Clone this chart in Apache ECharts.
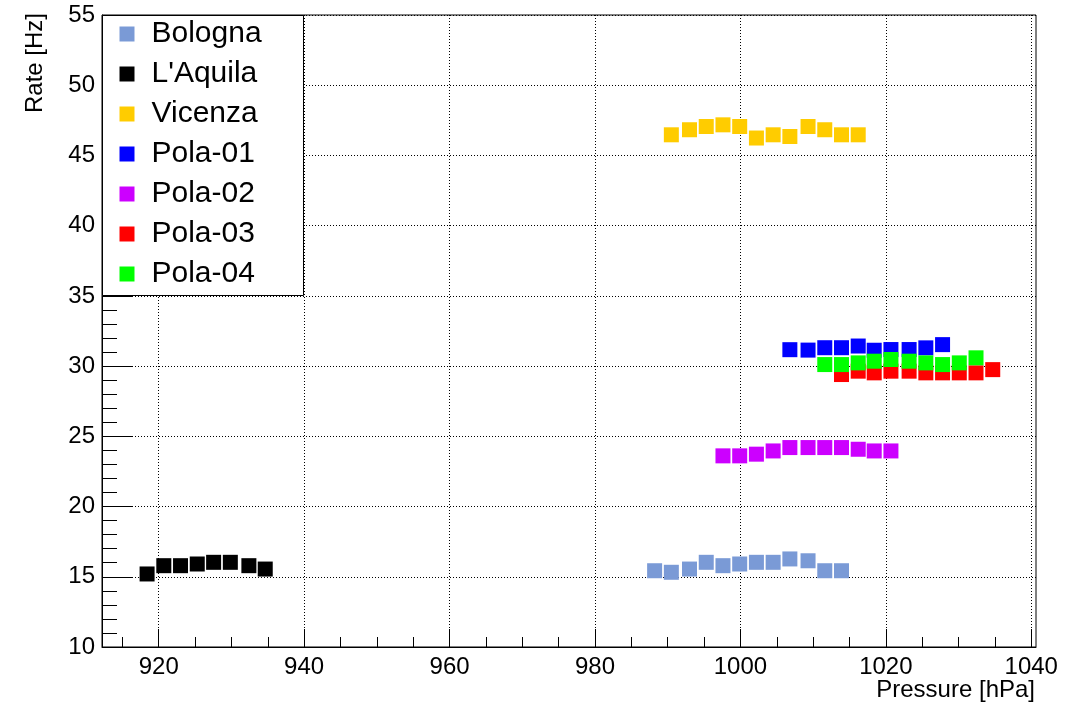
<!DOCTYPE html>
<html>
<head>
<meta charset="utf-8">
<title>Rate vs Pressure</title>
<script src="https://cdn.jsdelivr.net/npm/echarts@6/dist/echarts.min.js"></script>
<style>
  html, body { margin: 0; padding: 0; background: #ffffff; }
  #chart { width: 1081px; height: 705px; }
</style>
</head>
<body>
<div id="chart"></div>
<script>
// Station names, in drawing order
const stations = ['Bologna', "L'Aquila", 'Vicenza', 'Pola-01', 'Pola-02', 'Pola-03', 'Pola-04'];

// Pressure [hPa] and rate [Hz] per station
const bolognaP = [988.2, 990.5, 993.0, 995.3, 997.6, 999.9, 1002.2, 1004.5, 1006.8, 1009.3, 1011.6, 1013.9];
const bolognaR = [15.43, 15.32, 15.55, 16.03, 15.79, 15.91, 16.03, 16.03, 16.27, 16.14, 15.43, 15.43];

const aquilaP = [918.4, 920.7, 923.0, 925.3, 927.55, 929.85, 932.4, 934.65];
const aquilaR = [15.2, 15.79, 15.79, 15.91, 16.03, 16.03, 15.79, 15.55];

const vicenzaP = [990.5, 993.0, 995.3, 997.6, 999.9, 1002.2, 1004.5, 1006.8, 1009.3, 1011.6, 1013.9, 1016.2];
const vicenzaR = [46.47, 46.83, 47.06, 47.18, 47.06, 46.24, 46.47, 46.35, 47.06, 46.83, 46.47, 46.47];

const pola01P = [1006.8, 1009.3, 1011.6, 1013.9, 1016.2, 1018.4, 1020.7, 1023.2, 1025.5, 1027.8];
const pola01R = [31.17, 31.14, 31.31, 31.31, 31.43, 31.13, 31.18, 31.18, 31.30, 31.53];

const pola02P = [997.6, 999.9, 1002.2, 1004.5, 1006.8, 1009.3, 1011.6, 1013.9, 1016.2, 1018.4, 1020.7];
const pola02R = [23.61, 23.61, 23.73, 23.96, 24.2, 24.2, 24.2, 24.2, 24.08, 23.96, 23.96];

const pola03P = [1013.9, 1016.2, 1018.4, 1020.7, 1023.2, 1025.5, 1027.8, 1030.1, 1032.4, 1034.7];
const pola03R = [29.4, 29.64, 29.52, 29.64, 29.64, 29.52, 29.52, 29.52, 29.52, 29.75];

const pola04P = [1011.6, 1013.9, 1016.2, 1018.4, 1020.7, 1023.2, 1025.5, 1027.8, 1030.1, 1032.4];
const pola04R = [30.11, 30.11, 30.23, 30.35, 30.47, 30.35, 30.23, 30.11, 30.23, 30.59];

// Axis ranges and tick values
const xRange = [912.2, 1040.65];
const xMajorTicks = [920, 940, 960, 980, 1000, 1020, 1040];
const xMinorTicks = [915, 925, 930, 935, 945, 950, 955, 965, 970, 975, 985, 990, 995, 1005, 1010, 1015, 1025, 1030, 1035, 1040];
const yRange = [10, 55];
const yStep = 5;

const stationP = [bolognaP, aquilaP, vicenzaP, pola01P, pola02P, pola03P, pola04P];
const stationR = [bolognaR, aquilaR, vicenzaR, pola01R, pola02R, pola03R, pola04R];
const stationColors = ['#7a9ad6', '#000000', '#ffcc00', '#0000ff', '#cc00ff', '#ff0000', '#00ff00'];

const FONT = '"Liberation Sans", Arial, Helvetica, sans-serif';

const series = stations.map((name, i) => ({
  name: name,
  type: 'scatter',
  symbol: 'rect',
  symbolSize: 15,
  itemStyle: { color: stationColors[i], opacity: 1 },
  emphasis: { disabled: true },
  data: stationP[i].map((p, k) => [p, stationR[i][k]]),
  z: 2
}));

const chart = echarts.init(document.getElementById('chart'), null, { renderer: 'canvas' });

chart.setOption({
  animation: false,
  backgroundColor: '#ffffff',
  textStyle: { fontFamily: FONT },
  grid: {
    left: 102, right: 45, top: 15, bottom: 58,
    show: true, borderColor: '#000000', borderWidth: 1,
    containLabel: false
  },
  xAxis: [
    {
      type: 'value',
      min: xRange[0], max: xRange[1],
      axisLine: { show: true, lineStyle: { color: '#000', width: 1 } },
      axisTick: { show: true, inside: true, length: 18, customValues: xMajorTicks, lineStyle: { color: '#000', width: 1 } },
      axisLabel: {
        show: true, customValues: xMajorTicks, margin: 8, fontSize: 24, color: '#000', fontFamily: FONT,
        formatter: (v) => String(Math.round(v))
      },
      splitLine: { show: true, lineStyle: { color: '#000', width: 1, type: [1, 2] } }
    },
    {
      type: 'value',
      min: xRange[0], max: xRange[1],
      position: 'bottom',
      axisLine: { show: false },
      axisTick: { show: true, inside: true, length: 10, customValues: xMinorTicks, lineStyle: { color: '#000', width: 1 } },
      axisLabel: { show: false },
      splitLine: { show: false }
    }
  ],
  yAxis: {
    type: 'value',
    min: yRange[0], max: yRange[1], interval: yStep,
    axisLine: { show: true, lineStyle: { color: '#000', width: 1 } },
    axisTick: { show: true, inside: true, length: 30, lineStyle: { color: '#000', width: 1 } },
    minorTick: { show: true, splitNumber: 5, length: 15, lineStyle: { color: '#000', width: 1 } },
    axisLabel: { margin: 7, fontSize: 24, color: '#000', fontFamily: FONT },
    splitLine: { show: true, lineStyle: { color: '#000', width: 1, type: [1, 2] } }
  },
  legend: {
    orient: 'vertical',
    left: 119.5,
    top: 19,
    padding: 0,
    itemWidth: 15,
    itemHeight: 15,
    itemGap: 10,
    icon: 'rect',
    selectedMode: false,
    z: 4,
    textStyle: { fontSize: 30, lineHeight: 30, color: '#000', fontFamily: FONT, padding: [0, 0, 0, 12] },
    data: stations
  },
  graphic: [
    {
      type: 'rect',
      z: 3,
      shape: { x: 102.5, y: 15.5, width: 201, height: 280 },
      style: { fill: '#ffffff', stroke: '#000000', lineWidth: 1 }
    },
    {
      type: 'text',
      z: 5,
      x: 1035, y: 690,
      style: { text: 'Pressure [hPa]', font: '24px ' + FONT, fill: '#000', textAlign: 'right', textVerticalAlign: 'middle' }
    },
    {
      type: 'text',
      z: 5,
      x: 35, y: 13,
      rotation: Math.PI / 2,
      style: { text: 'Rate [Hz]', font: '24px ' + FONT, fill: '#000', textAlign: 'right', textVerticalAlign: 'middle' }
    }
  ],
  series: series
});
</script>
</body>
</html>
